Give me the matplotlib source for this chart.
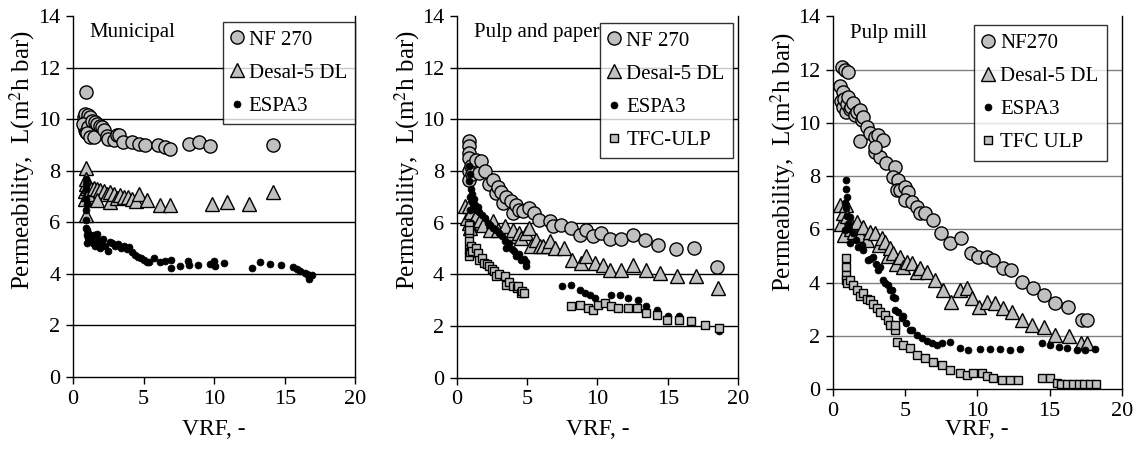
"""
plot.py
Permeability vs VRF for four membranes in three effluents
(Municipal, Pulp and paper, Pulp mill).
"""

import matplotlib
matplotlib.use("Agg")
import matplotlib.pyplot as plt

# ---------------------------------------------------------------- data ----
# Municipal
mun_nf_x = [0.94, 0.80, 0.87, 0.85, 0.95, 1.05, 1.22, 0.75, 0.90, 1.10,
            1.35, 1.58, 0.99, 1.20, 1.46, 1.70, 1.90, 2.05, 2.20, 2.40,
            2.52, 2.88, 3.10, 3.23, 3.58, 4.17, 4.65, 5.12, 6.06, 6.54,
            6.89, 8.19, 8.90, 9.72, 14.15]
mun_nf_y = [11.05, 10.1, 10.22, 9.6, 9.9, 10.15, 10.09, 9.83, 9.5, 9.7,
            9.95, 9.9, 9.45, 9.3, 9.31, 9.8, 9.75, 9.7, 9.6, 9.35,
            9.25, 9.18, 9.4, 9.38, 9.12, 9.12, 9.06, 9.0, 9.0, 8.93,
            8.84, 9.06, 9.12, 8.95, 9.0]
mun_ds_x = [0.94, 0.85, 0.90, 0.95, 1.00, 0.88, 0.94, 1.05, 1.15, 1.30,
            1.50, 1.70, 1.93, 2.20, 2.45, 2.65, 2.64, 2.90, 3.10, 3.35,
            3.60, 3.90, 4.20, 4.45, 4.65, 5.24, 6.18, 6.89, 9.84, 10.90,
            12.50, 14.20, 1.70]
mun_ds_y = [8.10, 7.20, 7.50, 7.70, 7.35, 6.90, 6.30, 7.10, 7.40, 7.30,
            7.35, 7.30, 7.25, 7.20, 7.10, 6.80, 7.18, 7.10, 6.95, 7.05,
            7.00, 6.98, 6.90, 6.85, 7.12, 6.86, 6.66, 6.66, 6.73, 6.79,
            6.73, 7.18, 6.86]
mun_es_x = [0.90, 0.90, 0.90, 0.92, 0.92, 0.95, 0.95, 0.98, 1.00, 1.00,
            1.02, 1.05, 1.10, 1.20, 1.30, 1.40, 1.50, 1.60, 1.70, 1.80,
            1.90, 2.00, 2.10, 2.30, 2.50, 2.60, 2.80, 3.00, 3.20, 3.40,
            3.60, 3.80, 4.00, 4.20, 4.40, 4.60, 4.80, 5.00, 5.24, 5.40,
            5.71, 6.19, 6.50, 6.97, 6.97, 7.60, 8.15, 8.20, 8.86, 9.73,
            9.96, 10.08, 10.67, 12.68, 13.27, 13.98, 14.76, 15.60, 15.90, 16.10,
            16.40, 16.60, 16.70, 16.90]
mun_es_y = [7.70, 7.30, 6.90, 6.50, 6.10, 5.80, 7.50, 5.50, 5.20, 6.70,
            5.70, 5.40, 5.60, 5.50, 5.35, 5.20, 5.50, 5.10, 5.55, 5.30,
            5.00, 5.20, 5.35, 5.10, 4.90, 5.25, 5.20, 5.10, 5.15, 5.00,
            5.10, 4.95, 5.05, 4.85, 4.75, 4.65, 4.60, 4.55, 4.46, 4.45,
            4.60, 4.46, 4.50, 4.55, 4.24, 4.30, 4.50, 4.33, 4.33, 4.40,
            4.50, 4.30, 4.44, 4.23, 4.46, 4.40, 4.33, 4.27, 4.20, 4.11,
            4.05, 4.01, 3.82, 3.95]

# Pulp and paper
pp_nf_x = [0.85, 0.85, 0.85, 0.90, 0.90, 0.85, 1.00, 1.10, 1.38, 1.61,
           1.73, 2.04, 2.30, 2.56, 2.80, 2.92, 3.15, 3.27, 3.50, 3.87,
           3.99, 4.22, 4.40, 4.70, 5.17, 5.46, 5.88, 6.60, 6.83, 7.43,
           8.14, 8.73, 9.20, 9.68, 10.27, 10.87, 11.70, 12.53, 13.36, 14.30,
           15.56, 16.90, 18.53]
pp_nf_y = [9.15, 8.95, 8.70, 8.50, 8.00, 7.66, 8.20, 7.90, 8.44, 7.92,
           8.37, 8.00, 7.50, 7.66, 7.15, 7.40, 7.20, 6.76, 7.00, 6.83,
           6.38, 6.70, 6.50, 6.44, 6.57, 6.38, 6.12, 6.05, 5.86, 5.92,
           5.80, 5.54, 5.73, 5.47, 5.60, 5.37, 5.37, 5.54, 5.35, 5.15,
           4.98, 5.02, 4.29]
pp_ds_x = [0.60, 0.70, 0.85, 0.90, 0.95, 1.00, 1.20, 1.38, 1.62, 1.90,
           2.33, 2.56, 2.92, 3.40, 3.87, 4.00, 4.46, 4.58, 4.93, 5.17,
           5.30, 5.65, 5.89, 6.12, 6.48, 6.60, 6.95, 7.60, 8.20, 8.85,
           9.20, 9.80, 10.40, 10.87, 11.70, 12.53, 13.43, 14.42, 15.68, 16.99,
           18.58]
pp_ds_y = [6.63, 6.20, 6.63, 6.00, 5.80, 6.40, 6.10, 6.25, 6.12, 5.90,
           5.73, 6.05, 5.73, 5.86, 5.47, 5.73, 5.60, 5.41, 5.60, 5.80,
           5.09, 5.35, 5.09, 5.09, 5.09, 5.28, 5.02, 5.02, 4.57, 4.44,
           4.70, 4.44, 4.38, 4.19, 4.19, 4.38, 4.19, 4.06, 3.93, 3.93,
           3.48]
pp_es_x = [0.90, 0.90, 0.92, 0.95, 0.95, 1.00, 1.00, 1.05, 1.10, 1.20,
           1.30, 1.40, 1.50, 1.60, 1.80, 2.00, 2.20, 2.40, 2.60, 2.80,
           3.00, 3.20, 3.40, 3.52, 3.70, 3.90, 4.10, 4.23, 4.40, 4.58,
           4.80, 4.94, 4.94, 7.50, 8.09, 8.73, 9.09, 9.44, 9.80, 10.98,
           11.58, 12.17, 12.88, 13.48, 14.26, 15.00, 15.80, 16.68, 18.65]
pp_es_y = [8.20, 7.60, 7.00, 6.50, 7.90, 6.00, 7.30, 6.80, 7.10, 6.90,
           6.70, 6.50, 6.60, 6.40, 6.30, 6.20, 6.00, 5.90, 5.80, 5.70,
           5.60, 5.50, 5.30, 5.02, 5.20, 5.00, 4.90, 4.70, 4.80, 4.57,
           4.60, 4.50, 4.31, 3.57, 3.61, 3.41, 3.28, 3.22, 3.09, 3.22,
           3.22, 3.09, 3.03, 2.77, 2.64, 2.38, 2.38, 2.25, 1.80]
pp_tf_x = [0.85, 0.85, 0.85, 0.88, 0.90, 0.90, 0.95, 1.00, 1.10, 1.36,
           1.50, 1.61, 1.80, 1.97, 2.15, 2.32, 2.50, 2.68, 2.80, 3.00,
           3.40, 3.50, 3.70, 3.99, 4.30, 4.34, 4.58, 4.63, 4.78, 8.09,
           8.73, 9.32, 9.68, 10.04, 10.51, 10.98, 11.46, 12.17, 12.81, 13.43,
           14.26, 14.95, 15.80, 16.68, 17.63, 18.65]
pp_tf_y = [5.92, 5.60, 4.70, 5.30, 5.73, 5.00, 4.85, 5.10, 4.90, 5.02,
           4.83, 4.57, 4.65, 4.44, 4.40, 4.31, 4.20, 4.12, 3.93, 4.00,
           3.93, 3.60, 3.70, 3.54, 3.48, 3.55, 3.28, 3.35, 3.28, 2.77,
           2.83, 2.70, 2.64, 2.83, 2.90, 2.77, 2.70, 2.70, 2.70, 2.51,
           2.45, 2.25, 2.25, 2.19, 2.06, 1.93]

# Pulp mill
pm_nf_x = [0.62, 0.85, 1.08, 0.50, 0.74, 0.60, 0.70, 0.80, 0.90, 1.00,
           1.08, 1.20, 1.30, 1.43, 1.55, 1.70, 1.89, 2.00, 2.12, 1.89,
           2.35, 2.58, 2.93, 3.16, 3.50, 2.93, 3.28, 2.93, 3.69, 4.31,
           4.20, 4.55, 4.43, 4.66, 5.00, 5.24, 5.00, 5.47, 5.81, 6.04,
           6.39, 6.97, 7.47, 8.12, 8.88, 9.55, 10.08, 10.66, 11.12, 11.76,
           12.34, 13.08, 13.84, 14.58, 15.34, 16.24, 17.23, 17.62]
pm_nf_y = [12.10, 11.98, 11.91, 11.40, 11.16, 10.80, 10.60, 10.90, 10.40, 10.70,
           10.98, 10.50, 10.60, 10.73, 10.29, 10.40, 10.48, 10.10, 10.23, 9.30,
           9.85, 9.60, 9.48, 9.54, 9.35, 8.91, 8.73, 9.10, 8.48, 8.35,
           7.98, 7.85, 7.48, 7.48, 7.60, 7.41, 7.10, 7.04, 6.85, 6.60,
           6.60, 6.35, 5.85, 5.48, 5.66, 5.10, 4.98, 4.98, 4.85, 4.54,
           4.48, 4.04, 3.79, 3.54, 3.23, 3.10, 2.60, 2.60]
pm_ds_x = [0.50, 0.60, 0.70, 0.80, 0.90, 1.00, 1.10, 1.30, 1.50, 1.66,
           1.90, 2.12, 2.35, 2.58, 2.93, 3.20, 3.39, 3.62, 3.80, 3.97,
           4.20, 4.40, 4.66, 4.90, 5.12, 5.47, 5.80, 6.04, 6.50, 7.08,
           7.61, 8.19, 8.81, 9.27, 9.62, 10.15, 10.66, 11.23, 11.81, 12.39,
           13.08, 13.77, 14.58, 15.39, 16.31, 17.16, 17.62]
pm_ds_y = [6.91, 6.20, 6.60, 5.80, 6.90, 6.50, 6.20, 6.00, 5.90, 6.29,
           5.80, 6.10, 5.60, 5.91, 5.85, 5.40, 5.66, 5.54, 5.00, 5.29,
           5.10, 4.70, 4.98, 4.60, 4.79, 4.73, 4.40, 4.54, 4.41, 4.10,
           3.73, 3.29, 3.73, 3.79, 3.41, 3.10, 3.29, 3.23, 3.04, 2.91,
           2.60, 2.41, 2.35, 2.04, 1.98, 1.73, 1.73]
pm_es_x = [0.92, 0.90, 0.85, 0.95, 0.97, 1.00, 0.85, 1.05, 1.10, 1.20,
           1.20, 1.40, 1.60, 1.77, 2.00, 2.12, 2.46, 2.60, 2.81, 3.00,
           3.16, 3.28, 3.50, 3.62, 3.80, 3.96, 4.08, 4.20, 4.31, 4.31,
           4.50, 4.77, 4.89, 5.10, 5.35, 5.47, 5.80, 6.16, 6.50, 6.85,
           7.20, 7.54, 8.12, 8.81, 9.39, 10.20, 10.89, 11.58, 12.27, 12.96,
           14.46, 15.04, 15.62, 16.19, 16.89, 17.46, 18.15]
pm_es_y = [7.85, 7.50, 7.00, 6.80, 7.22, 6.50, 5.97, 6.20, 6.00, 6.48,
           5.47, 5.85, 5.60, 5.35, 5.40, 5.23, 4.85, 4.90, 4.98, 4.70,
           4.47, 4.60, 4.10, 3.98, 3.90, 3.72, 3.73, 3.47, 3.41, 2.97,
           2.90, 2.66, 2.73, 2.50, 2.23, 2.22, 2.05, 1.91, 1.80, 1.72,
           1.65, 1.72, 1.78, 1.54, 1.48, 1.50, 1.50, 1.50, 1.48, 1.50,
           1.73, 1.66, 1.60, 1.54, 1.48, 1.48, 1.50]
pm_tf_x = [0.92, 0.90, 0.92, 0.95, 1.00, 1.20, 1.40, 1.66, 1.90, 2.12,
           2.35, 2.58, 2.80, 3.05, 3.30, 3.62, 3.80, 3.97, 4.31, 4.31,
           4.43, 4.89, 5.35, 5.81, 6.39, 6.97, 7.54, 8.12, 8.81, 9.27,
           9.73, 10.31, 10.66, 11.12, 11.70, 12.27, 12.85, 14.46, 15.04, 15.50,
           15.80, 16.20, 16.60, 17.00, 17.40, 17.80, 18.20]
pm_tf_y = [4.91, 4.60, 4.30, 4.10, 4.00, 4.10, 3.90, 3.73, 3.50, 3.60,
           3.40, 3.35, 3.20, 3.04, 2.90, 2.79, 2.60, 2.41, 2.23, 2.41,
           1.79, 1.66, 1.54, 1.29, 1.16, 1.04, 0.91, 0.73, 0.60, 0.54,
           0.60, 0.60, 0.48, 0.41, 0.35, 0.35, 0.35, 0.41, 0.41, 0.23,
           0.20, 0.20, 0.20, 0.20, 0.20, 0.20, 0.20]

panel_titles = ["Municipal", "Pulp and paper", "Pulp mill"]
x_ticks = [0, 5, 10, 15, 20]
y_ticks = [0, 2, 4, 6, 8, 10, 12, 14]

# --------------------------------------------------------------- style ----
ABU = "#c0c0c0"   # grey fill of the open markers
FONT = "Liberation Serif"
FS = 15

GAYA = {
    "nf":  dict(marker="o", ms=9.5, mfc=ABU, mec="black", mew=1.0),
    "ds":  dict(marker="^", ms=10.5, mfc=ABU, mec="black", mew=1.0),
    "es":  dict(marker="o", ms=5, mfc="black", mec="black", mew=0.5),
    "tf":  dict(marker="s", ms=6, mfc=ABU, mec="black", mew=1.0),
}

plt.rcParams["font.family"] = [FONT, "DejaVu Serif"]
plt.rcParams["mathtext.fontset"] = "stix"


def _gambar_panel(ax, judul, seri, legend_anchor, grid_color, ylab_xy, xlab_y):
    for kunci, x, y, label in seri:
        ax.plot(x, y, linestyle="none", label=label, **GAYA[kunci])

    ax.set_xlim(0, 20)
    ax.set_ylim(0, 14)
    ax.set_xticks(x_ticks)
    ax.set_yticks(y_ticks)
    ax.tick_params(direction="out", length=5, width=1, labelsize=FS + 1, pad=4)

    # horizontal grid lines only (no line on top of the plot area)
    for y in y_ticks[1:-1]:
        ax.axhline(y, color=grid_color, lw=1.0, zorder=0)

    ax.spines["top"].set_visible(False)
    for s in ("left", "bottom", "right"):
        ax.spines[s].set_linewidth(1.0)
        ax.spines[s].set_color("black")

    ax.set_xlabel("VRF, -", fontsize=FS + 2)
    ax.set_ylabel("Permeability,  L(m$^2$h bar)", fontsize=FS + 3)
    ax.yaxis.set_label_coords(*ylab_xy)
    ax.xaxis.set_label_coords(0.5, xlab_y)

    ax.text(0.06, 0.955, judul, transform=ax.transAxes, fontsize=FS,
            ha="left", va="center")

    leg = ax.legend(loc="upper right", bbox_to_anchor=legend_anchor,
                    borderaxespad=0, fontsize=FS, frameon=True, fancybox=False,
                    handlelength=0.55, handletextpad=0.3, labelspacing=0.65,
                    borderpad=0.4, numpoints=1)
    leg.get_frame().set_edgecolor("black")
    leg.get_frame().set_linewidth(1.0)


fig = plt.figure(figsize=(11.39, 4.51), dpi=100)
ax1 = fig.add_axes([0.064, 0.164, 0.248, 0.800])
ax2 = fig.add_axes([0.401, 0.162, 0.247, 0.803])
ax3 = fig.add_axes([0.731, 0.137, 0.254, 0.827])

_gambar_panel(ax1, panel_titles[0], [
    ("nf", mun_nf_x, mun_nf_y, "NF 270"),
    ("ds", mun_ds_x, mun_ds_y, "Desal-5 DL"),
    ("es", mun_es_x, mun_es_y, "ESPA3"),
], (1.0, 0.985), "black", (-0.128, 0.6), -0.116)

_gambar_panel(ax2, panel_titles[1], [
    ("nf", pp_nf_x, pp_nf_y, "NF 270"),
    ("ds", pp_ds_x, pp_ds_y, "Desal-5 DL"),
    ("es", pp_es_x, pp_es_y, "ESPA3"),
    ("tf", pp_tf_x, pp_tf_y, "TFC-ULP"),
], (0.982, 0.981), "black", (-0.125, 0.6), -0.113)

_gambar_panel(ax3, panel_titles[2], [
    ("nf", pm_nf_x, pm_nf_y, "NF270"),
    ("ds", pm_ds_x, pm_ds_y, "Desal-5 DL"),
    ("es", pm_es_x, pm_es_y, "ESPA3"),
    ("tf", pm_tf_x, pm_tf_y, "TFC ULP"),
], (0.948, 0.976), "#808080", (-0.121, 0.61), -0.080)

fig.savefig("out.png", dpi=100)
